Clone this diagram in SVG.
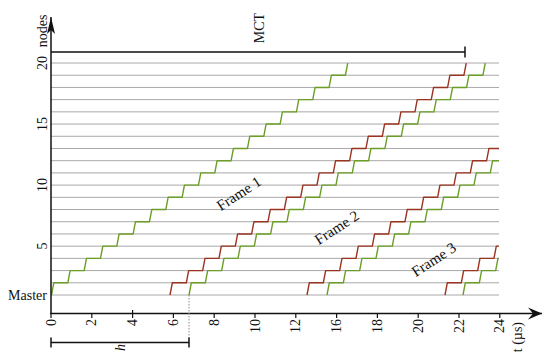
<svg xmlns="http://www.w3.org/2000/svg" width="550" height="364" viewBox="0 0 550 364">
<style>
text{font-family:"Liberation Serif","Times New Roman",serif;font-size:14px;fill:#111}
.grid line{stroke:#a8a8a8;stroke-width:1}
.ax{stroke:#111;stroke-width:1.5;fill:none}
.tk{stroke:#111;stroke-width:1.2}
.g{stroke:#6b9e27;stroke-width:1.4;fill:none;stroke-linejoin:round}
.r{stroke:#9a3420;stroke-width:1.4;fill:none;stroke-linejoin:round}
.fl{font-size:15px}
</style>
<defs>
<marker id="arrY" markerUnits="userSpaceOnUse" viewBox="-18 -5 19 10" markerWidth="19" markerHeight="10" refX="0" refY="0" orient="auto">
<path d="M0,0 L-17,-4 L-13,0 L-17,4 Z" fill="#111"/>
</marker>
<marker id="arrX" markerUnits="userSpaceOnUse" viewBox="-16 -7 17 14" markerWidth="17" markerHeight="14" refX="0" refY="0" orient="auto">
<path d="M0,0 L-14,-6 L-9,0 L-14,6 Z" fill="#111"/>
</marker>
</defs>
<g id="grid" class="grid">
<line x1="51" y1="295" x2="499" y2="295"/>
<line x1="51" y1="282.79" x2="499" y2="282.79"/>
<line x1="51" y1="270.58" x2="499" y2="270.58"/>
<line x1="51" y1="258.37" x2="499" y2="258.37"/>
<line x1="51" y1="246.16" x2="499" y2="246.16"/>
<line x1="51" y1="233.95" x2="499" y2="233.95"/>
<line x1="51" y1="221.74" x2="499" y2="221.74"/>
<line x1="51" y1="209.53" x2="499" y2="209.53"/>
<line x1="51" y1="197.32" x2="499" y2="197.32"/>
<line x1="51" y1="185.11" x2="499" y2="185.11"/>
<line x1="51" y1="172.9" x2="499" y2="172.9"/>
<line x1="51" y1="160.69" x2="499" y2="160.69"/>
<line x1="51" y1="148.48" x2="499" y2="148.48"/>
<line x1="51" y1="136.27" x2="499" y2="136.27"/>
<line x1="51" y1="124.06" x2="499" y2="124.06"/>
<line x1="51" y1="111.85" x2="499" y2="111.85"/>
<line x1="51" y1="99.64" x2="499" y2="99.64"/>
<line x1="51" y1="87.43" x2="499" y2="87.43"/>
<line x1="51" y1="75.22" x2="499" y2="75.22"/>
<line x1="51" y1="63.01" x2="499" y2="63.01"/>
</g>
<g id="connectors">
<path id="frame1-green" class="g" d="M51.5 295 l2.3 -12.21 h14.03 l2.3 -12.21 h14.03 l2.3 -12.21 h14.03 l2.3 -12.21 h14.03 l2.3 -12.21 h14.03 l2.3 -12.21 h14.03 l2.3 -12.21 h14.03 l2.3 -12.21 h14.03 l2.3 -12.21 h14.03 l2.3 -12.21 h14.03 l2.3 -12.21 h14.03 l2.3 -12.21 h14.03 l2.3 -12.21 h14.03 l2.3 -12.21 h14.03 l2.3 -12.21 h14.03 l2.3 -12.21 h14.03 l2.3 -12.21 h14.03 l2.3 -12.21 h14.03 l2.3 -12.21"/>
<path id="frame2-red" class="r" d="M170 295 l2.3 -12.21 h14.03 l2.3 -12.21 h14.03 l2.3 -12.21 h14.03 l2.3 -12.21 h14.03 l2.3 -12.21 h14.03 l2.3 -12.21 h14.03 l2.3 -12.21 h14.03 l2.3 -12.21 h14.03 l2.3 -12.21 h14.03 l2.3 -12.21 h14.03 l2.3 -12.21 h14.03 l2.3 -12.21 h14.03 l2.3 -12.21 h14.03 l2.3 -12.21 h14.03 l2.3 -12.21 h14.03 l2.3 -12.21 h14.03 l2.3 -12.21 h14.03 l2.3 -12.21 h14.03 l2.3 -12.21"/>
<path id="frame2-green" class="g" d="M189 295 l2.3 -12.21 h14.03 l2.3 -12.21 h14.03 l2.3 -12.21 h14.03 l2.3 -12.21 h14.03 l2.3 -12.21 h14.03 l2.3 -12.21 h14.03 l2.3 -12.21 h14.03 l2.3 -12.21 h14.03 l2.3 -12.21 h14.03 l2.3 -12.21 h14.03 l2.3 -12.21 h14.03 l2.3 -12.21 h14.03 l2.3 -12.21 h14.03 l2.3 -12.21 h14.03 l2.3 -12.21 h14.03 l2.3 -12.21 h14.03 l2.3 -12.21 h14.03 l2.3 -12.21 h14.03 l2.3 -12.21"/>
<path id="frame3-red" class="r" d="M307 295 l2.3 -12.21 h14.03 l2.3 -12.21 h14.03 l2.3 -12.21 h14.03 l2.3 -12.21 h14.03 l2.3 -12.21 h14.03 l2.3 -12.21 h14.03 l2.3 -12.21 h14.03 l2.3 -12.21 h14.03 l2.3 -12.21 h14.03 l2.3 -12.21 h14.03 l2.3 -12.21 h14.03 l2.3 -12.21 H499"/>
<path id="frame3-green" class="g" d="M327 295 l2.3 -12.21 h14.03 l2.3 -12.21 h14.03 l2.3 -12.21 h14.03 l2.3 -12.21 h14.03 l2.3 -12.21 h14.03 l2.3 -12.21 h14.03 l2.3 -12.21 h14.03 l2.3 -12.21 h14.03 l2.3 -12.21 h14.03 l2.3 -12.21 h14.03 l2.3 -12.21 H499"/>
<path id="frame4-red" class="r" d="M445 295 l2.3 -12.21 h14.03 l2.3 -12.21 h14.03 l2.3 -12.21 h14.03 l2.3 -12.21 H499"/>
<path id="frame4-green" class="g" d="M463 295 l2.3 -12.21 h14.03 l2.3 -12.21 h14.03 l2.3 -12.21 H499"/>
</g>
<g id="axes">
<line class="ax" x1="51" y1="314" x2="51" y2="17" marker-end="url(#arrY)"/>
<line class="ax" x1="50.3" y1="313.5" x2="542" y2="313.5" marker-end="url(#arrX)"/>
<line class="tk" x1="51" y1="313.5" x2="51" y2="318"/>
<line class="tk" x1="91.8" y1="313.5" x2="91.8" y2="318"/>
<line class="tk" x1="132.6" y1="310" x2="132.6" y2="318"/>
<line class="tk" x1="173.4" y1="313.5" x2="173.4" y2="318"/>
<line class="tk" x1="214.2" y1="313.5" x2="214.2" y2="318"/>
<line class="tk" x1="255" y1="313.5" x2="255" y2="318"/>
<line class="tk" x1="295.8" y1="313.5" x2="295.8" y2="318"/>
<line class="tk" x1="336.6" y1="313.5" x2="336.6" y2="318"/>
<line class="tk" x1="377.4" y1="313.5" x2="377.4" y2="318"/>
<line class="tk" x1="418.2" y1="313.5" x2="418.2" y2="318"/>
<line class="tk" x1="459" y1="313.5" x2="459" y2="318"/>
<line class="tk" x1="499.8" y1="313.5" x2="499.8" y2="318"/>
</g>
<g id="xlabels">
<text transform="translate(51,319) rotate(-90)" y="4.5" text-anchor="end">0</text>
<text transform="translate(91.8,319) rotate(-90)" y="4.5" text-anchor="end">2</text>
<text transform="translate(132.6,319) rotate(-90)" y="4.5" text-anchor="end">4</text>
<text transform="translate(173.4,319) rotate(-90)" y="4.5" text-anchor="end">6</text>
<text transform="translate(214.2,319) rotate(-90)" y="4.5" text-anchor="end">8</text>
<text transform="translate(255,319) rotate(-90)" y="4.5" text-anchor="end">10</text>
<text transform="translate(295.8,319) rotate(-90)" y="4.5" text-anchor="end">12</text>
<text transform="translate(336.6,319) rotate(-90)" y="4.5" text-anchor="end">16</text>
<text transform="translate(377.4,319) rotate(-90)" y="4.5" text-anchor="end">18</text>
<text transform="translate(418.2,319) rotate(-90)" y="4.5" text-anchor="end">20</text>
<text transform="translate(459,319) rotate(-90)" y="4.5" text-anchor="end">22</text>
<text transform="translate(499.8,319) rotate(-90)" y="4.5" text-anchor="end">24</text>
<text transform="translate(517.5,322) rotate(-90)" y="4.5" text-anchor="end">t (µs)</text>
</g>
<g id="ylabels">
<text transform="translate(42.5,31) rotate(-90)" y="4.5" text-anchor="middle">nodes</text>
<text transform="translate(42.5,63) rotate(-90)" y="4.5" text-anchor="middle">20</text>
<text transform="translate(42.5,124) rotate(-90)" y="4.5" text-anchor="middle">15</text>
<text transform="translate(42.5,185) rotate(-90)" y="4.5" text-anchor="middle">10</text>
<text transform="translate(42.5,246) rotate(-90)" y="4.5" text-anchor="middle">5</text>
<text x="47" y="299.5" text-anchor="end">Master</text>
</g>
<g id="mct">
<line class="ax" x1="51" y1="52" x2="465" y2="52"/>
<line class="ax" x1="465" y1="46.5" x2="465" y2="57.5"/>
<text transform="translate(259,28) rotate(-90)" y="4.5" text-anchor="middle">MCT</text>
</g>
<g id="h-bracket">
<line x1="189" y1="295" x2="189" y2="338" stroke="#888" stroke-width="1" stroke-dasharray="1.5,1.5"/>
<line class="ax" x1="51" y1="342.5" x2="189" y2="342.5"/>
<line class="ax" x1="51" y1="337.5" x2="51" y2="347.5"/>
<line class="ax" x1="189" y1="337.5" x2="189" y2="347.5"/>
<text transform="translate(120,347.5) rotate(-90)" y="4.5" text-anchor="middle" font-style="italic">h</text>
</g>
<g id="frame-labels">
<text class="fl" transform="translate(239,194) rotate(-33)" y="4.5" text-anchor="middle">Frame 1</text>
<text class="fl" transform="translate(337,228) rotate(-33)" y="4.5" text-anchor="middle">Frame 2</text>
<text class="fl" transform="translate(434,260) rotate(-33)" y="4.5" text-anchor="middle">Frame 3</text>
</g>
</svg>
